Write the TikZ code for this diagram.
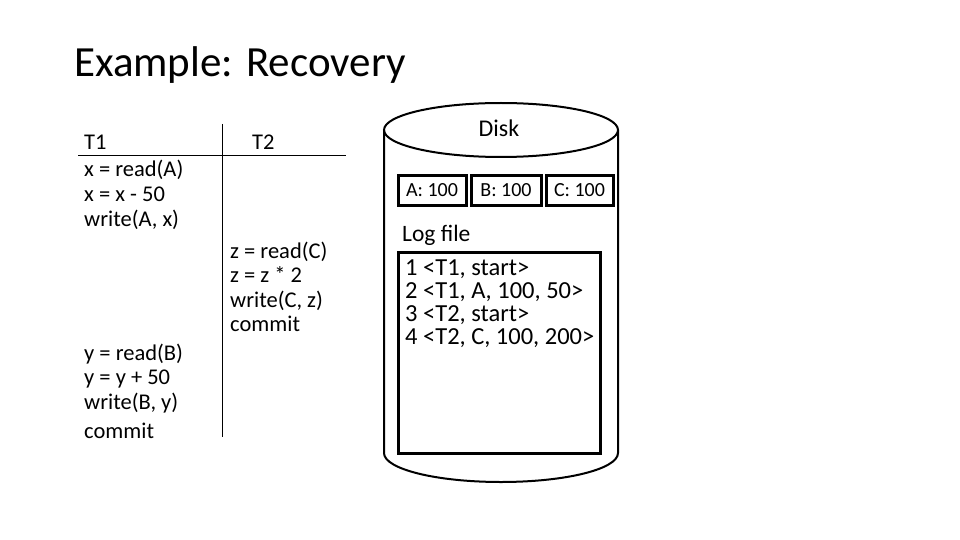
\documentclass[tikz,border=0pt]{standalone}
\usepackage{fontspec}
\setmainfont{Carlito}
\begin{document}
\begin{tikzpicture}[x=1pt,y=-1pt,
  txt/.style={anchor=base west,inner sep=0pt,font=\fontsize{22.5}{24}\selectfont},
  logtxt/.style={anchor=base west,inner sep=0pt,font=\fontsize{24.5}{26}\selectfont},
  valbox/.style={draw,line width=3pt,inner sep=0pt,font=\fontsize{20}{22}\selectfont},
  rule/.style={line width=1pt},
  disk/.style={line width=2pt}]
\useasboundingbox (0,0) rectangle (960,540);
\node[anchor=base west,inner sep=0pt,font=\fontsize{43}{46}\selectfont] (title) at (74,77) {Example: Recovery};
% schedule table
\coordinate (vtop) at (222,124);
\coordinate (vbot) at (222,437);
\coordinate (hl) at (78,156);
\coordinate (hr) at (346,156);
\draw[rule] (vtop) -- (vbot);
\draw[rule] (hl) -- (hr);
\node[txt] (t1) at (84,150) {T1};
\node[txt] (t2) at (252,150) {T2};
\node[txt] (a1) at (84,177) {x = read(A)};
\node[txt] (a2) at (84,201.5) {x = x - 50};
\node[txt] (a3) at (84,226) {write(A, x)};
\node[txt] (b1) at (230,258) {z = read(C)};
\node[txt] (b2) at (230,282.5) {z = z * 2};
\node[txt] (b3) at (230,307) {write(C, z)};
\node[txt] (b4) at (230,331.5) {commit};
\node[txt] (c1) at (84,360) {y = read(B)};
\node[txt] (c2) at (84,384.5) {y = y + 50};
\node[txt] (c3) at (84,409) {write(B, y)};
\node[txt] (c4) at (84,438) {commit};
% disk cylinder
\draw[disk] (501,130) ellipse [x radius=117, y radius=27];
\draw[disk] (384,130) -- (384,453) .. controls (384,469) and (436,482) .. (501,482) .. controls (566,482) and (618,469) .. (618,453) -- (618,130);
\node[anchor=base,inner sep=0pt,font=\fontsize{24}{26}\selectfont] (disk) at (499,137) {Disk};
\node[valbox,minimum width=68pt,minimum height=29pt] (va) at (432,190.5) {A: 100};
\node[valbox,minimum width=70pt,minimum height=29pt] (vb) at (506,190.5) {B: 100};
\node[valbox,minimum width=67pt,minimum height=29pt] (vc) at (579.5,190.5) {C: 100};
\node[anchor=base west,inner sep=0pt,font=\fontsize{23.5}{25}\selectfont] (logl) at (402,241) {Log file};
\node[draw,line width=3pt,minimum width=202pt,minimum height=201pt,inner sep=0pt] (log) at (499,352.5) {};
\node[logtxt] (l1) at (405,275) {1 <T1, start>};
\node[logtxt] (l2) at (405,298) {2 <T1, A, 100, 50>};
\node[logtxt] (l3) at (405,321) {3 <T2, start>};
\node[logtxt] (l4) at (405,344) {4 <T2, C, 100, 200>};
\end{tikzpicture}
\end{document}
